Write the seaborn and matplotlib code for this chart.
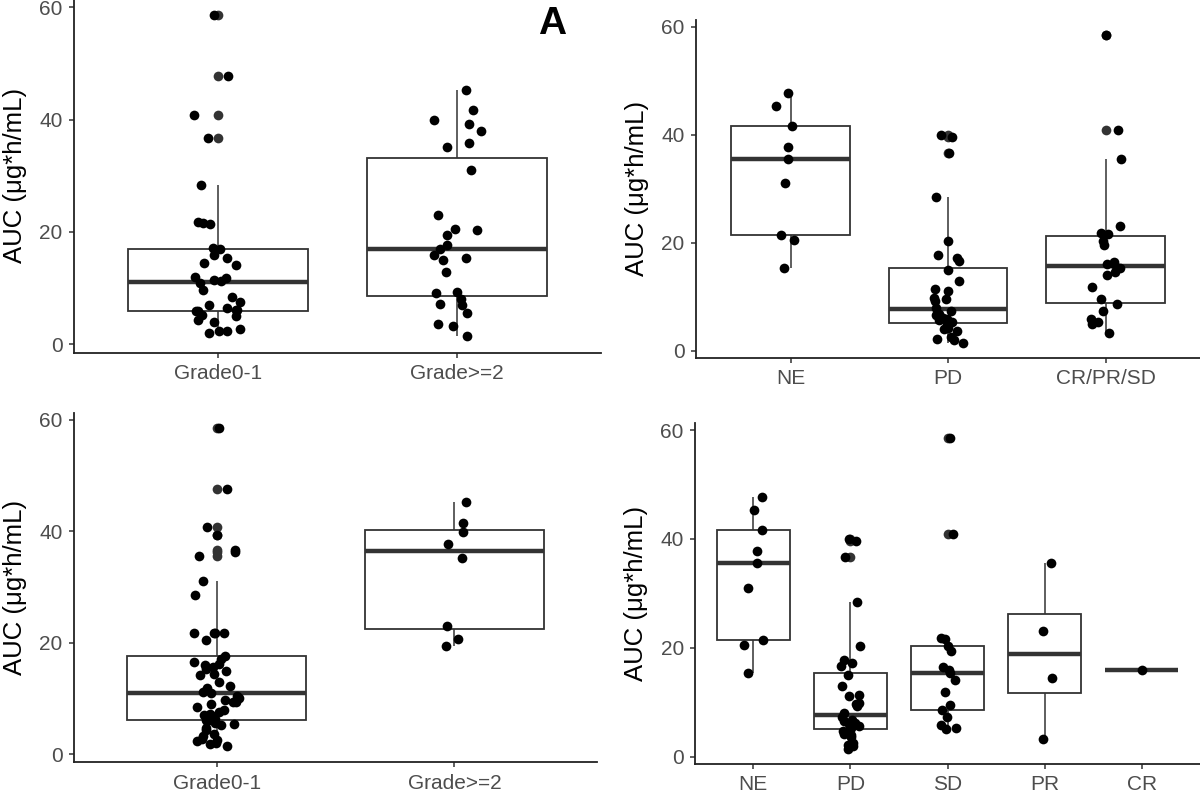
import numpy as np
import pandas as pd
import matplotlib
matplotlib.use("Agg")
import matplotlib.pyplot as plt
import seaborn as sns

# ---------------- data ----------------
tox_categories = ["Grade0-1", "Grade>=2"]
# top-left panel
tl_grade01 = [58.6, 47.8, 40.8, 36.7, 28.4, 21.8, 21.6, 21.5, 17.2, 16.9, 15.9, 15.3,
              14.4, 14.1, 12.0, 11.8, 11.5, 11.2, 10.9, 9.7, 8.5, 7.6, 7.0, 6.4,
              6.1, 6.1, 6.0, 6.0, 5.2, 5.0, 4.3, 4.0, 2.8, 2.3, 2.3, 2.0]
tl_grade2 = [45.3, 41.7, 39.9, 39.3, 37.9, 35.8, 35.2, 31.0, 23.0, 20.6, 20.4, 19.5,
             17.7, 16.9, 15.9, 15.3, 15.0, 12.9, 9.4, 9.2, 8.0, 7.2, 7.0, 5.5, 3.7, 3.3, 1.4]
# bottom-left panel
bl_grade01 = [58.4, 47.6, 40.8, 39.3, 36.6, 36.3, 35.5, 31.0, 28.5, 21.8, 21.8, 21.7,
              21.7, 20.5, 17.6, 17.0, 16.6, 16.1, 16.0, 15.7, 15.2, 15.0, 14.4, 14.2,
              13.0, 12.2, 11.8, 11.2, 10.9, 10.5, 10.1, 9.7, 9.4, 9.3, 9.0, 8.5, 8.0,
              7.6, 7.3, 7.0, 6.9, 6.3, 6.1, 5.9, 5.6, 5.5, 5.3, 4.8, 4.4, 3.6, 3.3,
              2.8, 2.6, 2.3, 2.1, 1.8, 1.4]
bl_grade2 = [45.3, 41.5, 39.8, 37.7, 35.2, 23.0, 20.7, 19.4]

# response groups
auc_ne = [47.7, 45.3, 41.6, 37.8, 35.6, 31.0, 21.5, 20.6, 15.3]
auc_pd = [40.0, 39.6, 36.6, 28.5, 20.3, 17.8, 17.2, 16.6, 15.0, 12.9, 11.4, 11.1,
          9.8, 9.6, 9.3, 8.0, 7.3, 6.8, 6.6, 6.2, 6.0, 5.8, 5.6, 5.3, 4.8, 4.2,
          4.0, 3.6, 2.6, 2.2, 1.9, 1.5]
auc_sd = [58.5, 40.9, 21.8, 21.6, 20.3, 19.5, 16.5, 16.0, 15.3, 14.1, 11.8, 9.5,
          8.6, 7.3, 5.8, 5.3, 5.0]
auc_pr = [35.5, 23.1, 14.5, 3.2]
auc_cr = [16.0]
resp3_categories = ["NE", "PD", "CR/PR/SD"]
resp5_categories = ["NE", "PD", "SD", "PR", "CR"]

y_ticks = [0, 20, 40, 60]
y_label = "AUC (\u03bcg*h/mL)"
panel_tag = "A"

# ---------------- style ----------------
sns.set_style("ticks")
plt.rcParams["font.family"] = ["Liberation Sans", "DejaVu Sans"]

W, H = 1200, 794
fig = plt.figure(figsize=(W / 100, H / 100), dpi=100)

TICK_GREY = "#4D4D4D"
LINE = "#333333"


def make_frame(groups, cats):
    rows = []
    for c, vals in zip(cats, groups):
        rows += [(c, v) for v in vals]
    return pd.DataFrame(rows, columns=["group", "auc"])


def panel(left_px, right_px, y0_px, y60_px, df, cats, seed):
    vals = df["auc"].to_numpy()
    rng = vals.max() - vals.min()
    lo, hi = vals.min() - 0.05 * rng, vals.max() + 0.05 * rng
    ppu = (y0_px - y60_px) / 60.0
    bottom_px = y0_px - lo * ppu
    top_px = y60_px - (hi - 60) * ppu
    ax = fig.add_axes([left_px / W, 1 - bottom_px / H,
                       (right_px - left_px) / W, (bottom_px - top_px) / H])
    sns.boxplot(data=df, x="group", y="auc", order=cats, ax=ax, width=0.75,
                color="white", saturation=1, linecolor=LINE, linewidth=1.3,
                fliersize=7,
                medianprops=dict(linewidth=3.2, color=LINE),
                whiskerprops=dict(linewidth=1.1, color=LINE),
                capprops=dict(visible=False),
                flierprops=dict(marker="o", markerfacecolor=LINE,
                                markeredgecolor=LINE, markeredgewidth=0,
                                markersize=7))
    np.random.seed(seed)
    sns.stripplot(data=df, x="group", y="auc", order=cats, ax=ax, jitter=0.1,
                  color="black", size=7, linewidth=0, zorder=3)
    ax.set_xlim(-0.6, len(cats) - 1 + 0.6)
    ax.set_ylim(lo, hi)
    ax.set_yticks(y_ticks)
    ax.set_xlabel("")
    ax.set_ylabel(y_label, fontsize=18.5, color="black")
    width_px = right_px - left_px
    ax.yaxis.set_label_coords(-47.0 / width_px, 0.5)
    sns.despine(ax=ax)
    for s in ["left", "bottom"]:
        ax.spines[s].set_color("#222222")
        ax.spines[s].set_linewidth(1.3)
    ax.tick_params(axis="both", length=3.6, width=1.1, color=LINE,
                   labelsize=15, labelcolor=TICK_GREY, pad=4.5)
    ax.set_facecolor("white")
    return ax


df_tl = make_frame([tl_grade01, tl_grade2], tox_categories)
df_bl = make_frame([bl_grade01, bl_grade2], tox_categories)
df_tr = make_frame([auc_ne, auc_pd, auc_sd + auc_pr + auc_cr], resp3_categories)
df_br = make_frame([auc_ne, auc_pd, auc_sd, auc_pr, auc_cr], resp5_categories)

panel(74, 601, 344.3, 7.3, df_tl, tox_categories, 1)
panel(696, 1200, 350.7, 27.0, df_tr, resp3_categories, 2)
panel(74, 597, 754.3, 419.5, df_bl, tox_categories, 3)
panel(695, 1200, 756.7, 430.0, df_br, resp5_categories, 4)

fig.text(552.5 / W, 1 - 24 / H, panel_tag, fontsize=28, fontweight="bold",
         ha="center", va="center", color="black")

fig.savefig("out.png", dpi=100, facecolor="white")
